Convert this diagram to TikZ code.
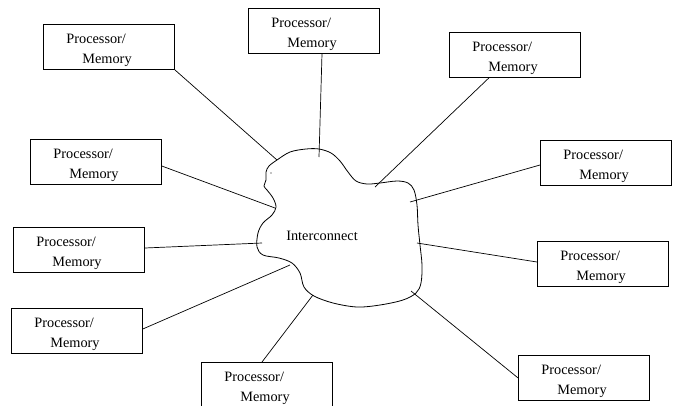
\documentclass[tikz,border=0pt]{standalone}
\usepackage{fontspec}
\setmainfont{Liberation Serif}
\usetikzlibrary{calc}
\begin{document}
\begin{tikzpicture}[x=1pt, y=-1pt,
  pm/.style={draw, line width=0.8pt, rectangle, anchor=north west,
    inner xsep=23pt, inner ysep=0pt, text width=85pt, align=left,
    text height=19.5pt, text depth=25.5pt,
    font=\fontsize{14.3}{20}\selectfont},
  link/.style={line width=0.7pt},
  cloud/.style={line width=0.8pt}]
\useasboundingbox (0,0) rectangle (674,405);

% processor/memory units
\newcommand{\pmtext}{Processor/\\\hspace*{16pt}Memory}
\node[pm] (b1)  at (43,24)   {\pmtext};
\node[pm] (b2)  at (248,8)   {\pmtext};
\node[pm] (b3)  at (449,32)  {\pmtext};
\node[pm] (b4)  at (540,140) {\pmtext};
\node[pm] (b5)  at (537,241) {\pmtext};
\node[pm] (b6)  at (518,355) {\pmtext};
\node[pm] (b7)  at (201,362) {\pmtext};
\node[pm] (b8)  at (11,308)  {\pmtext};
\node[pm] (b9)  at (13,227)  {\pmtext};
\node[pm] (b10) at (30,139)  {\pmtext};

% interconnect cloud
\draw[cloud] plot[smooth cycle, tension=0.55] coordinates {
  (277,160) (290,152) (306,149) (319,149) (331,153) (340,161) (348,172)
  (356,181) (367,184) (380,183) (397,181) (408,183) (414,190) (417,205)
  (418,225) (420,245) (422,265) (421,283) (416,293) (403,300) (380,305)
  (357,307) (333,303) (314,296) (304,287) (300,273) (292,263) (279,258)
  (263,255) (257,247) (258,233) (263,223) (272,215) (276,207) (273,198)
  (267,190) (264,186) (266,180) (266,172) (269,166)};
\fill (271,173) circle (0.6);
\node[font=\fontsize{14.3}{17}\selectfont] (ic) at (322,236) {Interconnect};

% attachment points on the cloud
\coordinate (e1)  at (277,160);
\coordinate (e2)  at (319,157);
\coordinate (e3)  at (375,187);
\coordinate (e4)  at (410,202);
\coordinate (e5)  at (417,243);
\coordinate (e6)  at (411,291);
\coordinate (e7)  at (313,295);
\coordinate (e8)  at (290,265);
\coordinate (e9)  at (262,243);
\coordinate (e10) at (275,208);

% links
\draw[link] (b1.south east) -- (e1);
\draw[link] ($(b2.south west)+(74,0)$) -- (e2);
\draw[link] ($(b3.south west)+(40,0)$) -- (e3);
\draw[link] ($(b4.north west)+(0,25)$) -- (e4);
\draw[link] ($(b5.north west)+(0,21)$) -- (e5);
\draw[link] (b6.west) -- (e6);
\draw[link] ($(b7.north west)+(61,0)$) -- (e7);
\draw[link] ($(b8.north east)+(0,21)$) -- (e8);
\draw[link] ($(b9.north east)+(0,21)$) -- (e9);
\draw[link] ($(b10.north east)+(0,27)$) -- (e10);
\end{tikzpicture}
\end{document}
